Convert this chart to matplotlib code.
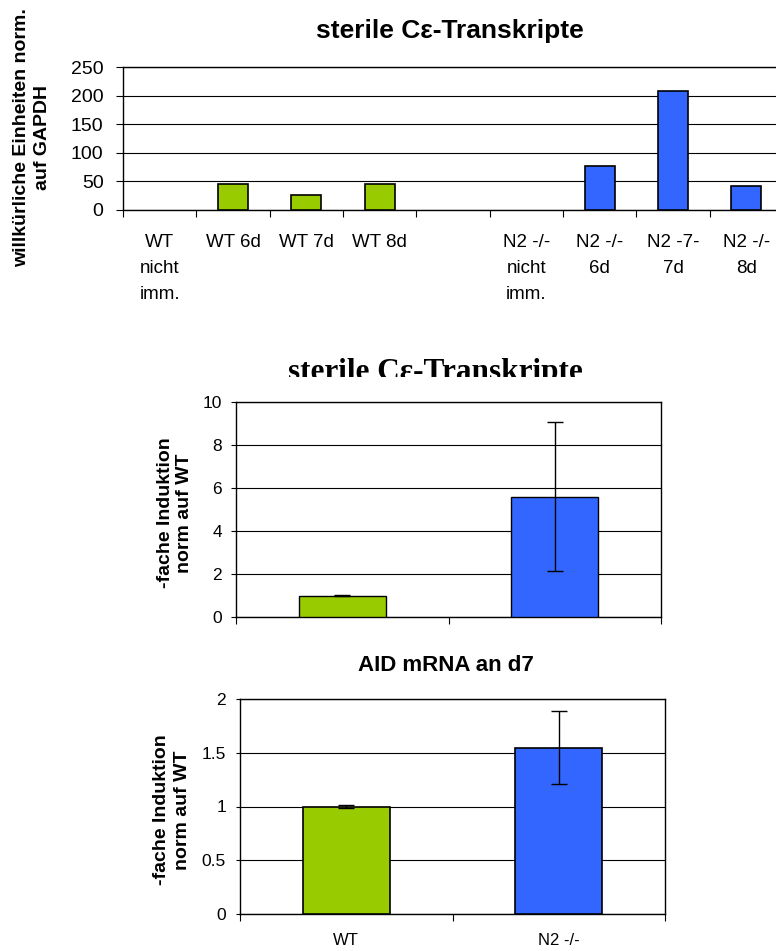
import numpy as np
import matplotlib
matplotlib.use("Agg")
import matplotlib.pyplot as plt
from matplotlib.transforms import Bbox, TransformedBbox

plt.rcParams['font.family'] = ['Liberation Sans', 'DejaVu Sans']

# time course, arbitrary units normalised to GAPDH
time_labels = ["WT\nnicht\nimm.", "WT 6d", "WT 7d", "WT 8d", "",
               "N2 -/-\nnicht\nimm.", "N2 -/-\n6d", "N2 -7-\n7d", "N2 -/-\n8d"]
time_values = [0, 45, 27, 45, 0, 0, 77, 208, 42]
time_groups = ["WT", "WT", "WT", "WT", "", "N2", "N2", "N2", "N2"]

# fold induction, normalised to WT
groups = ["WT", "N2 -/-"]
ce_fold = [1.0, 5.6]
ce_err = [0.01, 3.47]
aid_fold = [1.0, 1.545]
aid_err = [0.01, 0.34]

green = "#99CC00"
blue = "#3366FF"
group_color = {"WT": green, "N2": blue, "": "none"}

W, H = 776, 951


def box(l, t, r, b):
    return [l / W, 1 - b / H, (r - l) / W, (b - t) / H]


def style_axes(ax, n, ymax, ystep, ylen, ypad, ysize, labels, xsize, xpad):
    ax.set_xlim(-0.5, n - 0.5)
    ax.set_ylim(0, ymax)
    ax.set_yticks(np.arange(0, ymax + ystep / 2, ystep))
    ax.yaxis.grid(True, color="black", lw=0.8)
    ax.set_axisbelow(True)
    for s in ax.spines.values():
        s.set_color("black")
        s.set_linewidth(1.0)
    ax.set_xticks(np.arange(n + 1) - 0.5)
    ax.set_xticklabels([])
    ax.set_xticks(np.arange(n), minor=True)
    ax.set_xticklabels(labels, minor=True, fontsize=xsize, linespacing=1.7)
    ax.tick_params(axis="x", which="major", length=5, width=0.8, direction="out")
    ax.tick_params(axis="x", which="minor", length=0, pad=xpad)
    ax.tick_params(axis="y", length=ylen, width=0.8, pad=ypad, labelsize=ysize)


fig = plt.figure(figsize=(W / 100, H / 100), dpi=100)

# top: time course
ax1 = fig.add_axes(box(123, 67, 783, 210))
x = np.arange(len(time_values))
edges = ["black" if v > 0 else "none" for v in time_values]
ax1.bar(x, time_values, width=0.41, color=[group_color[g] for g in time_groups],
        edgecolor=edges, linewidth=1.2, zorder=3)
style_axes(ax1, len(time_values), 250, 50, 5, 9, 14, time_labels, 13.5, 17)
ax1.yaxis.set_major_formatter(matplotlib.ticker.FormatStrFormatter("%d"))
fig.text(450 / W, 1 - 38 / H, "sterile C\u03b5-Transkripte", ha="center", va="baseline",
         fontsize=19, fontweight="bold")
fig.text(32 / W, 1 - 138 / H, "willk\u00fcrliche Einheiten norm.\nauf GAPDH", rotation=90,
         ha="center", va="center", fontsize=14, fontweight="bold", linespacing=1.3,
         multialignment="center")

# middle: sterile C-epsilon fold induction
ax2 = fig.add_axes(box(236, 402, 661, 617))
xg = np.arange(len(groups))
ax2.bar(xg, ce_fold, width=0.41, color=[green, blue], edgecolor="black", linewidth=1.0, zorder=3)
ax2.errorbar(xg, ce_fold, yerr=ce_err, fmt="none", ecolor="black", elinewidth=1.0,
             capsize=6, capthick=1.0, zorder=4)
style_axes(ax2, len(groups), 10, 2, 3.6, 6.5, 12.5, ["", ""], 12, 9)
t = fig.text(435 / W, 1 - 380 / H, "sterile C\u03b5-Transkripte", ha="center", va="baseline",
             fontsize=22.5, fontweight="bold", family=["Liberation Serif", "DejaVu Serif"])
t.set_clip_box(TransformedBbox(Bbox([[0, 1 - 377 / H], [1, 1]]), fig.transFigure))
t.set_clip_on(True)
fig.text(175 / W, 1 - 513 / H, "-fache Induktion\nnorm auf WT", rotation=90,
         ha="center", va="center", fontsize=14, fontweight="bold", linespacing=1.1,
         multialignment="center")

# bottom: AID mRNA at day 7
ax3 = fig.add_axes(box(240, 699, 665, 914))
ax3.bar(xg, aid_fold, width=0.41, color=[green, blue], edgecolor="black", linewidth=1.2, zorder=3)
ax3.errorbar(xg, aid_fold, yerr=aid_err, fmt="none", ecolor="black", elinewidth=1.0,
             capsize=6, capthick=1.0, zorder=4)
style_axes(ax3, len(groups), 2, 0.5, 3, 7, 12.5, groups, 12, 14)
ax3.yaxis.set_major_formatter(matplotlib.ticker.FuncFormatter(lambda v, p: "%g" % v))
fig.text(446 / W, 1 - 671 / H, "AID mRNA an d7", ha="center", va="baseline",
         fontsize=16, fontweight="bold")
fig.text(172 / W, 1 - 810 / H, "-fache Induktion\nnorm auf WT", rotation=90,
         ha="center", va="center", fontsize=14, fontweight="bold", linespacing=1.3,
         multialignment="center")

fig.savefig("out.png", dpi=100)
